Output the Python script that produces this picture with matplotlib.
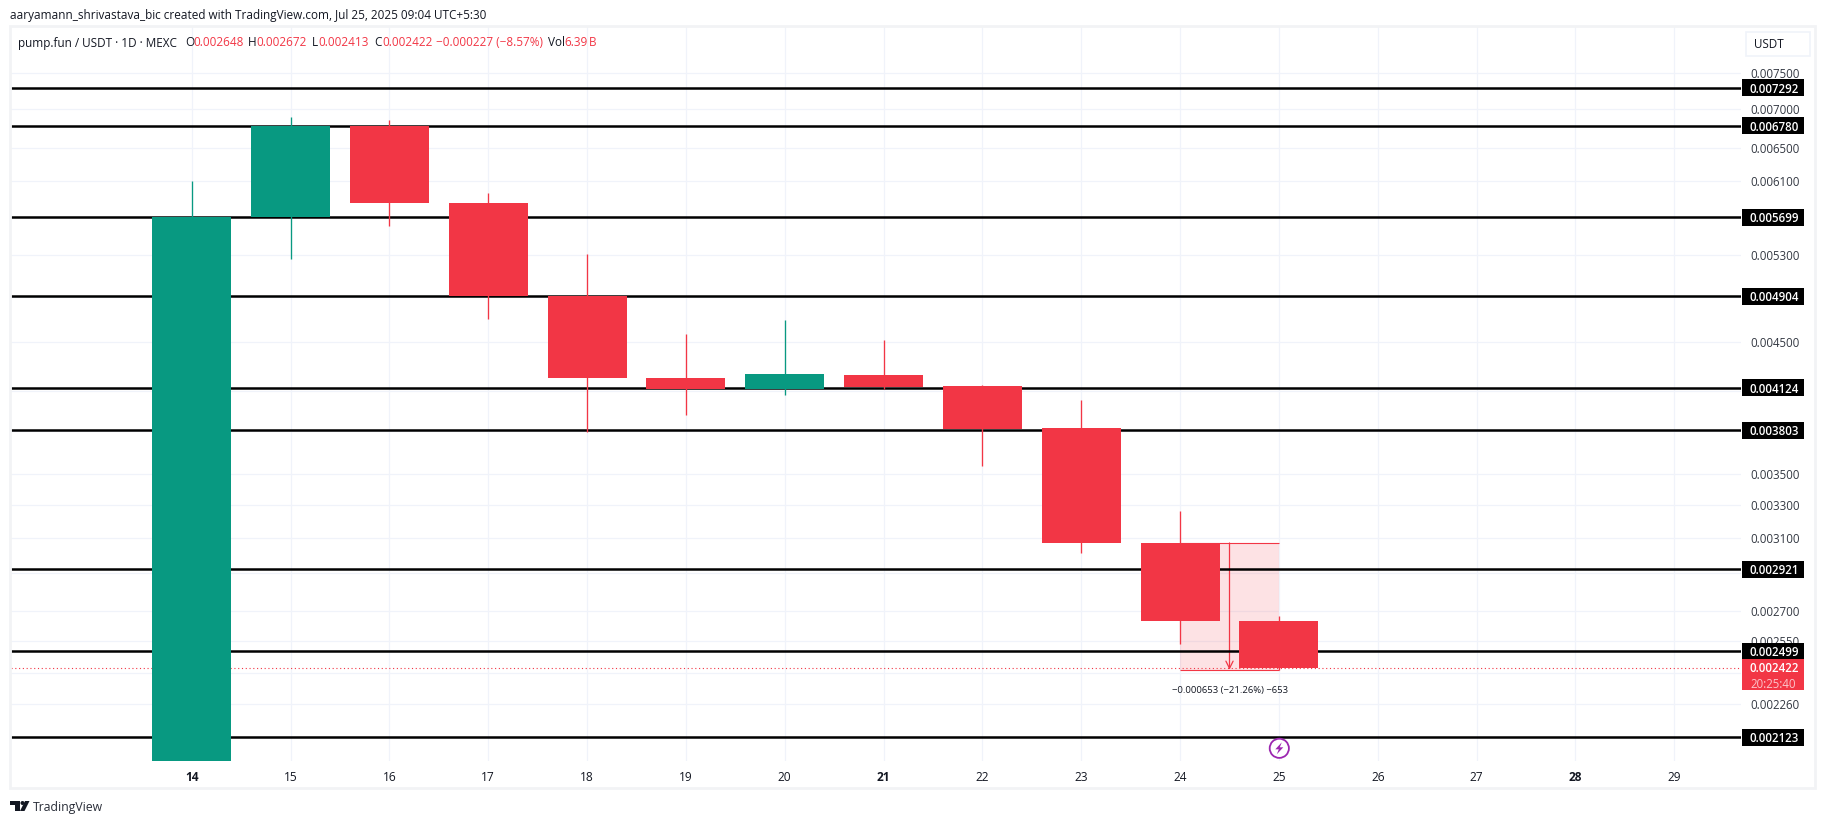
import matplotlib
matplotlib.use("Agg")
import matplotlib.pyplot as plt
from matplotlib.patches import Rectangle, FancyBboxPatch, Polygon, Circle

W, H = 1825, 824

# candles
days = [14, 15, 16, 17, 18, 19, 20, 21, 22, 23, 24, 25]
opens = [0.00199, 0.005699, 0.00678, 0.00586, 0.004904, 0.004199, 0.004112, 0.004223, 0.004136, 0.003816, 0.00307, 0.002648]
highs = [0.00611, 0.0069, 0.00686, 0.00597, 0.00532, 0.004565, 0.004688, 0.004513, 0.004144, 0.004024, 0.003262, 0.002672]
lows = [0.00195, 0.00526, 0.0056, 0.0047, 0.00379, 0.003914, 0.004066, 0.004112, 0.003556, 0.003012, 0.002534, 0.002413]
closes = [0.005699, 0.00678, 0.00586, 0.004904, 0.004199, 0.004112, 0.004232, 0.004128, 0.003811, 0.00307, 0.002648, 0.002422]

# horizontal levels
levels = [0.007292, 0.00678, 0.005699, 0.004904, 0.004124, 0.003803, 0.002921, 0.002499, 0.002123]
level_labels = ["0.007292", "0.006780", "0.005699", "0.004904", "0.004124", "0.003803", "0.002921", "0.002499", "0.002123"]

# price axis
price_ticks = [0.0075, 0.007, 0.0065, 0.0061, 0.0057, 0.0053, 0.0049, 0.0045, 0.0041, 0.0038, 0.0035,
               0.0033, 0.0031, 0.0029, 0.0027, 0.00255, 0.0024, 0.00226]
price_labels = ["0.007500", "0.007000", "0.006500", "0.006100", "", "0.005300", "", "0.004500", "", "", "0.003500",
                "0.003300", "0.003100", "", "0.002700", "0.002550", "", "0.002260"]
date_ticks = list(range(14, 30))
bold_dates = [14, 21, 28]

last_price = 0.002422
countdown = "20:25:40"
measure_top = 0.00307
measure_bottom = 0.002413
measure_days = (24, 25)

RED = "#F23645"
GREEN = "#089981"
GRID = "#F0F3FA"
INK = "#131722"
FONT = ["Open Sans", "DejaVu Sans"]
plt.rcParams["font.family"] = FONT

fig = plt.figure(figsize=(W / 100, H / 100), dpi=100, facecolor="white")


def fx(x):
    return x / W


def fy(y):
    return 1 - y / H


def ftext(x, y, s, color=INK, size=8.4, **kw):
    fig.text(fx(x), fy(y), s, color=color, fontsize=size, va="center", **kw)


# outer frame
fig.add_artist(Rectangle((fx(10), fy(788)), fx(1805), (788 - 26) / H, fill=False, ec="#F2F3F5", lw=2))

ax = fig.add_axes([fx(11), fy(761), fx(1730), (761 - 27) / H])
ax.set_yscale("log")
ax.set_xlim(12.172, 29.675)
ax.set_ylim(0.002029, 0.00818)
for s in ax.spines.values():
    s.set_visible(False)

ax.yaxis.tick_right()
ax.set_yticks(price_ticks)
ax.set_yticklabels(price_labels)
ax.yaxis.set_minor_locator(matplotlib.ticker.NullLocator())
ax.set_xticks(date_ticks)
ax.set_xticklabels([str(d) for d in date_ticks])
ax.tick_params(axis="y", length=0, pad=6.5, labelsize=8.3, labelcolor="#333842")
ax.tick_params(axis="x", length=0, pad=7, labelsize=8.6, labelcolor=INK)
for lab, d in zip(ax.get_xticklabels(), date_ticks):
    if d in bold_dates:
        lab.set_fontweight("bold")
ax.grid(True, color=GRID, lw=0.9)
ax.set_axisbelow(True)

# measure tool
ax.add_patch(Rectangle((measure_days[0], measure_bottom), measure_days[1] - measure_days[0],
                       measure_top - measure_bottom, fc=RED, alpha=0.14, ec="none", zorder=1.5))
ax.hlines([measure_top, measure_bottom], measure_days[0], measure_days[1], color=RED, lw=0.8, zorder=1.6)
mid = sum(measure_days) / 2
ax.annotate("", xy=(mid, measure_bottom), xytext=(mid, measure_top), zorder=1.7,
            arrowprops=dict(arrowstyle="->", color=RED, lw=0.9, shrinkA=0, shrinkB=0, mutation_scale=13))
ax.annotate("\u22120.000653 (\u221221.26%) \u2212653", xy=(mid, measure_bottom), xytext=(0, -15),
            textcoords="offset points", ha="center", va="center", fontsize=6.8, color=INK, zorder=6)

# levels and last price
ax.hlines(levels, *ax.get_xlim(), color="black", lw=1.8, zorder=3)
ax.axhline(last_price, color=RED, lw=0.8, ls=(0, (1, 2.4)), zorder=3)

# candles
colors = [GREEN if c >= o else RED for o, c in zip(opens, closes)]
ax.vlines(days, lows, highs, color=colors, lw=0.95, zorder=4)
ax.bar(days, [c - o for o, c in zip(opens, closes)], bottom=opens, width=0.8, color=colors, zorder=5)

# price labels on the right, boxes placed in pixels from the axis scale
for lev, lab in zip(levels, level_labels):
    py = ax.transData.transform((14, lev))[1]
    fig.add_artist(Rectangle((1742, py - 8.5), 62, 17, transform=None, fc="black", ec="none", zorder=8))
    fig.text(fx(1750), py / H, lab, color="white", fontsize=8.3, va="center_baseline", fontweight="semibold", zorder=9)

fig.add_artist(Rectangle((1742, H - 690), 62, 31, transform=None, fc=RED, ec="none", zorder=9))
ftext(1750, 669, f"{last_price:.6f}", color="white", size=8.3, zorder=10, fontweight="semibold")
ftext(1750, 684, countdown, color="#FBC4CA", size=8.3, zorder=10)

# USDT button
fig.add_artist(FancyBboxPatch((fx(1746), fy(56)), fx(64), 24 / H, boxstyle="round,pad=0.0", fc="white",
                              ec=GRID, lw=1.2))
ftext(1754, 45, "USDT", size=8.4)

# header
ftext(10, 16, "aaryamann_shrivastava_bic created with TradingView.com, Jul 25, 2025 09:04 UTC+5:30", size=8.45)
ftext(18, 43, "pump.fun / USDT \u00b7 1D \u00b7 MEXC", size=8.45)
legend_items = [(185, "O", INK), (193, "0.002648", RED), (248, "H", INK), (256, "0.002672", RED),
                (312, "L", INK), (318, "0.002413", RED), (374, "C", INK), (382, "0.002422", RED),
                (436, "\u22120.000227 (\u22128.57%)", RED), (548, "Vol", INK), (564, "6.39", RED), (589, "B", RED)]
for x, s, c in legend_items:
    ftext(x, 43, s, color=c, size=8.45)

# lightning badge
bx, by = 1279.3, 748.3
fig.add_artist(Circle((bx, H - by), 9.6, transform=None, fc="white", ec="#9C27B0", lw=1.3, zorder=9))
fig.add_artist(Polygon([(bx + 2.5, H - by + 6), (bx - 4, H - by - 1), (bx - 0.5, H - by - 1), (bx - 2.5, H - by - 6),
                        (bx + 4, H - by + 1), (bx + 0.5, H - by + 1)], transform=None, fc="#9C27B0", ec="none", zorder=10))

# TradingView logo
fig.add_artist(Polygon([(10, H - 801), (19.5, H - 801), (19.5, H - 811), (15, H - 811), (15, H - 805), (10, H - 805)],
                       transform=None, fc=INK, ec="none"))
fig.add_artist(Circle((22.5, H - 803), 2, transform=None, fc=INK, ec="none"))
fig.add_artist(Polygon([(25, H - 801), (29.5, H - 801), (24.5, H - 811), (20, H - 811)], transform=None, fc=INK, ec="none"))
ftext(33, 807, "TradingView", size=8.8, color="#2A2E39")

fig.savefig("out.png", dpi=100)
